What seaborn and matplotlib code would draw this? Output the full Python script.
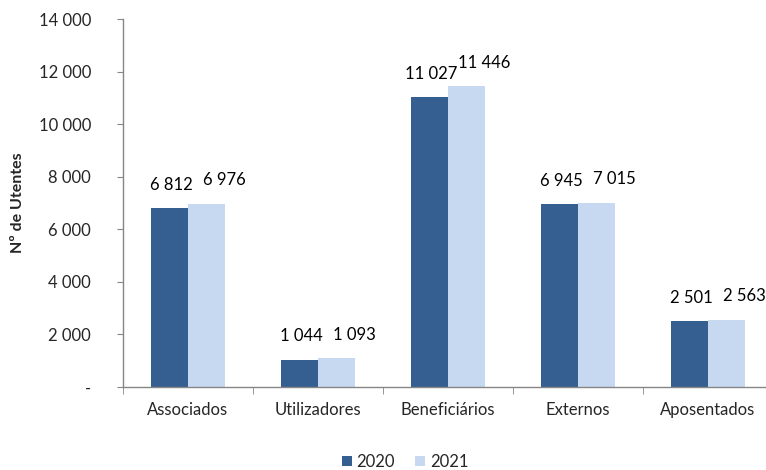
import numpy as np
import pandas as pd
import matplotlib
matplotlib.use("Agg")
import matplotlib.pyplot as plt
import seaborn as sns
from matplotlib.ticker import FuncFormatter, FixedLocator

categories = ["Associados", "Utilizadores", "Beneficiários", "Externos", "Aposentados"]
years = ["2020", "2021"]
values_2020 = [6812, 1044, 11027, 6945, 2501]
values_2021 = [6976, 1093, 11446, 7015, 2563]

df = pd.DataFrame({
    "categoria": categories * 2,
    "ano": [years[0]] * len(categories) + [years[1]] * len(categories),
    "utentes": values_2020 + values_2021,
})

sns.set_style("white")
plt.rcParams["font.family"] = ["Lato", "DejaVu Sans"]

GRID = "#868686"
FS = 12
fig = plt.figure(figsize=(7.66, 4.70), dpi=100)
ax = fig.add_axes([123 / 766, 1 - 387 / 470, 650 / 766, (387 - 19) / 470])

sns.barplot(data=df, x="categoria", y="utentes", hue="ano",
            palette=["#355F91", "#C6D9F1"], width=0.57, gap=0,
            saturation=1, edgecolor="none", ax=ax)


def fmt_num(v, pos=None):
    if v == 0:
        return "-"
    return f"{v:,.0f}".replace(",", " ")


# labels sit above each bar, the 2021 ones nudged right like the original
x_shift = [1.5, 13]
for cont, dx in zip(ax.containers, x_shift):
    for bar, v in zip(cont, cont.datavalues):
        ax.annotate(fmt_num(v), (bar.get_x() + bar.get_width() / 2, bar.get_height()),
                    xytext=(dx, 11), textcoords="offset points",
                    ha="center", va="bottom", fontsize=FS, color="black",
                    annotation_clip=False)

ax.set_ylim(0, 14000)
ax.set_yticks(np.arange(0, 14001, 2000))
ax.yaxis.set_major_formatter(FuncFormatter(fmt_num))
ax.set_xlim(-0.5, len(categories) - 0.5)

# category ticks sit between groups
ax.xaxis.set_minor_locator(FixedLocator(np.arange(-0.5, len(categories), 1)))
ax.tick_params(axis="x", which="major", length=0, labelsize=FS, pad=11)
ax.tick_params(axis="x", which="minor", length=5, color=GRID, direction="out")
ax.tick_params(axis="y", length=4, color=GRID, direction="out", labelsize=FS, pad=19)
ax.tick_params(bottom=True, left=True, which="both")

for side in ["top", "right"]:
    ax.spines[side].set_visible(False)
for side in ["left", "bottom"]:
    ax.spines[side].set_color(GRID)
    ax.spines[side].set_linewidth(1)

ax.set_xlabel("")
ax.set_ylabel("Nº de Utentes", fontsize=11.5, fontweight="bold", labelpad=10)

ax.get_legend().remove()
handles, labels = ax.get_legend_handles_labels()
fig.legend(handles, labels, loc="center", bbox_to_anchor=(405 / 766, 1 - 462 / 470),
           ncol=2, frameon=False, fontsize=FS, handlelength=0.6, handleheight=0.6,
           handletextpad=0.3, columnspacing=1.2)

fig.savefig("out.png", dpi=100)
